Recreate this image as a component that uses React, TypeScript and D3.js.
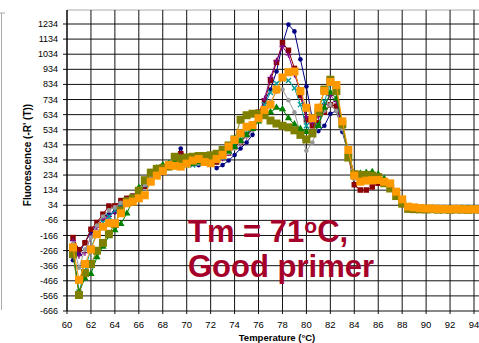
import React from 'react';
import * as d3 from 'd3';

const temps = [60.5, 61, 61.5, 62, 62.5, 63, 63.5, 64, 64.5, 65, 65.5, 66, 66.5, 67, 67.5, 68, 68.5, 69, 69.5, 70, 70.5, 71, 71.5, 72, 72.5, 73, 73.5, 74, 74.5, 75, 75.5, 76, 76.5, 77, 77.5, 78, 78.5, 79, 79.5, 80, 80.5, 81, 81.5, 82, 82.5, 83, 83.5, 84, 84.5, 85, 85.5, 86, 86.5, 87, 87.5, 88, 88.5, 89, 89.5, 90, 90.5, 91, 91.5, 92, 92.5, 93, 93.5, 94, 94.5];

const navyVals = [-330, -290, -210, -150, -90, -45, -25, -10, 30, 60, 80, 110, 160, 220, 260, 290, 310, 340, 410, 330, 310, 300, 320, 310, 280, 300, 330, 367, 410, 450, 500, 630, 720, 800, 920, 1100, 1230, 1185, 1000, 820, 600, 525, 560, 640, 660, 520, 380, 230, 200, 190, 210, 200, 190, 160, 110, 60, 30, 22, 20, 18, 20, 16, 15, 18, 14, 15, 12, 14, 12];
const maroonVals = [-180, -260, -215, -125, -80, -25, 29, 30, 65, 80, 95, 110, 160, 230, 270, 290, 300, 320, 375, 320, 310, 320, 330, 330, 320, 350, 380, 420, 450, 500, 550, 650, 720, 860, 980, 1110, 1060, 940, 760, 600, 560, 580, 650, 700, 690, 560, 360, 170, 135, 135, 155, 180, 175, 150, 100, 40, 18, 14, 12, 10, 12, 9, 10, 8, 10, 9, 8, 10, 9];
const purpleVals = [-200, -300, -280, -170, -110, -60, -40, -10, 40, 60, 90, 110, 170, 230, 270, 290, 300, 320, 360, 330, 320, 320, 335, 330, 330, 345, 380, 420, 450, 490, 540, 620, 740, 880, 990, 1085, 1030, 900, 790, 620, 580, 620, 700, 760, 720, 560, 380, 230, 235, 235, 230, 230, 200, 170, 110, 40, 20, 16, 14, 12, 14, 10, 12, 10, 11, 10, 9, 11, 10];
const tealVals = [-250, -540, -400, -250, -150, -80, -40, 0, 40, 70, 90, 120, 170, 230, 270, 290, 300, 310, 320, 300, 300, 310, 320, 320, 330, 350, 390, 430, 470, 510, 560, 620, 700, 780, 840, 870, 860, 810, 700, 560, 500, 560, 720, 840, 780, 560, 360, 220, 210, 220, 215, 200, 190, 160, 100, 40, 20, 15, 14, 12, 13, 11, 12, 10, 12, 11, 10, 12, 10];
const grayVals = [-220, -380, -260, -180, -100, -40, 0, 20, 50, 70, 90, 120, 170, 230, 260, 280, 300, 310, 330, 320, 310, 310, 320, 320, 330, 350, 380, 410, 450, 490, 530, 600, 660, 720, 785, 800, 730, 650, 510, 395, 450, 560, 660, 700, 660, 540, 360, 210, 200, 190, 200, 200, 190, 160, 100, 40, 20, 16, 14, 12, 13, 11, 12, 10, 12, 11, 10, 12, 10];
const greenVals = [-290, -540, -450, -420, -310, -240, -170, -130, -90, -20, 70, 150, 200, 250, 280, 300, 310, 320, 330, 320, 310, 320, 330, 330, 340, 360, 390, 420, 460, 500, 540, 590, 620, 650, 680, 670, 610, 570, 540, 520, 510, 560, 680, 780, 740, 580, 380, 240, 245, 250, 255, 240, 210, 170, 110, 50, 22, 18, 15, 14, 15, 12, 13, 11, 13, 12, 11, 13, 11];
const oliveVals = [-290, -560, -415, -355, -267, -215, -155, -90, 0, 60, 80, 130, 200, 250, 275, 280, 290, 355, 345, 350, 355, 360, 360, 365, 375, 400, 430, 470, 600, 630, 640, 640, 630, 595, 575, 560, 550, 530, 500, 470, 510, 650, 800, 865, 790, 570, 350, 240, 235, 235, 230, 220, 180, 145, 95, 45, 10, 8, 7, 6, 8, 5, 6, 4, 6, 5, 4, 6, 5];
const orangeVals = [-245, -460, -355, -258, -158, -108, -85, -85, -19, 47, 58, 80, 100, 190, 230, 260, 300, 295, 290, 310, 330, 340, 320, 312, 340, 367, 422, 466, 510, 554, 565, 610, 665, 700, 800, 880, 915, 920, 790, 680, 610, 680, 790, 850, 830, 590, 400, 230, 190, 197, 200, 201, 190, 179, 124, 73, 25, 20, 15, 13, 12, 10, 9, 8, 10, 8, 7, 8, 7];

const xTickValues = [60, 62, 64, 66, 68, 70, 72, 74, 76, 78, 80, 82, 84, 86, 88, 90, 92, 94];
const yTickValues = [-666, -566, -466, -366, -266, -166, -66, 34, 134, 234, 334, 434, 534, 634, 734, 834, 934, 1034, 1134, 1234];

type Marker = 'circle' | 'square' | 'plus' | 'x' | 'triangle';
const SERIES: { values: number[]; color: string; marker: Marker; size: number }[] = [
  { values: navyVals, color: '#000080', marker: 'circle', size: 4.6 },
  { values: maroonVals, color: '#8B0000', marker: 'square', size: 5.5 },
  { values: purpleVals, color: '#800080', marker: 'plus', size: 6 },
  { values: tealVals, color: '#009999', marker: 'x', size: 5 },
  { values: grayVals, color: '#999999', marker: 'circle', size: 4.6 },
  { values: greenVals, color: '#008000', marker: 'triangle', size: 6.5 },
  { values: oliveVals, color: '#808000', marker: 'square', size: 8 },
  { values: orangeVals, color: '#FF9900', marker: 'square', size: 8 },
];

const L = 67, R = 479, T = 10, B = 311;

function MarkerShape({ m, cx, cy, s, c }: { m: Marker; cx: number; cy: number; s: number; c: string }) {
  if (m === 'circle') return <circle cx={cx} cy={cy} r={s / 2} fill={c} />;
  if (m === 'square') return <rect x={cx - s / 2} y={cy - s / 2} width={s} height={s} fill={c} />;
  if (m === 'triangle') {
    const p = d3.symbol(d3.symbolTriangle, s * s * 0.55)();
    return <path d={p || ''} transform={`translate(${cx},${cy})`} fill={c} />;
  }
  const h = s / 2;
  if (m === 'plus')
    return <path d={`M${cx - h},${cy}H${cx + h}M${cx},${cy - h}V${cy + h}`} stroke={c} strokeWidth={1.3} />;
  return <path d={`M${cx - h},${cy - h}L${cx + h},${cy + h}M${cx - h},${cy + h}L${cx + h},${cy - h}`} stroke={c} strokeWidth={1.3} />;
}

export default function App() {
  const x = d3.scaleLinear().domain([60, 94]).range([L, 474]);
  const y = d3.scaleLinear().domain([-666, 1234]).range([B, 24]);
  const line = d3.line<number>().x((_, i) => x(temps[i])).y((v) => y(v));
  const font = 'Arial, "Liberation Sans", sans-serif';

  return (
    <svg width={479} height={343} style={{ position: 'absolute', left: 0, top: 0, background: '#fff' }} fontFamily={font}>
      <defs>
        <clipPath id="plot">
          <rect x={L} y={T} width={R - L + 2} height={B - T + 4} />
        </clipPath>
      </defs>
      <path d="M0,13H5M1.5,13V310" stroke="#aaa" fill="none" />
      <line x1={L} x2={R} y1={T} y2={T} stroke="#aaa" />
      {yTickValues.map((v) => (
        <g key={v}>
          <line x1={L - 4} x2={R} y1={y(v)} y2={y(v)} stroke="#111" strokeWidth={1} />
          <text x={58} y={y(v)} dy="0.34em" textAnchor="end" fontSize={9} fill="#000">{v}</text>
        </g>
      ))}
      {xTickValues.map((v) => (
        <g key={v}>
          <line x1={x(v)} x2={x(v)} y1={T} y2={B + 3} stroke="#111" strokeWidth={1} />
          <text x={x(v)} y={327.5} textAnchor="middle" fontSize={9.5} fill="#000">{v}</text>
        </g>
      ))}
      <line x1={L} x2={L} y1={T} y2={B} stroke="#000" />
      <g clipPath="url(#plot)">
        {SERIES.map((s, si) => (
          <g key={si}>
            <path d={line(s.values) || ''} fill="none" stroke={s.color} strokeWidth={1} />
            {s.values.map((v, i) => (
              <MarkerShape key={i} m={s.marker} cx={x(temps[i])} cy={y(v)} s={s.size} c={s.color} />
            ))}
          </g>
        ))}
      </g>
      <text x={188} y={242} fontSize={31} fontWeight="bold" fill="#A5002A">
        Tm = 71<tspan fontSize={21} dy={-9}>o</tspan><tspan dy={9}>C,</tspan>
      </text>
      <text x={188} y={277} fontSize={31} fontWeight="bold" fill="#A5002A">Good primer</text>
      <text x={277} y={340.5} textAnchor="middle" fontSize={9.5} fontWeight="bold" fill="#000">Temperature (°C)</text>
      <text transform="translate(31,155) rotate(-90)" textAnchor="middle" fontSize={10} fontWeight="bold" fill="#000">Fluorescence (-R' (T))</text>
    </svg>
  );
}
